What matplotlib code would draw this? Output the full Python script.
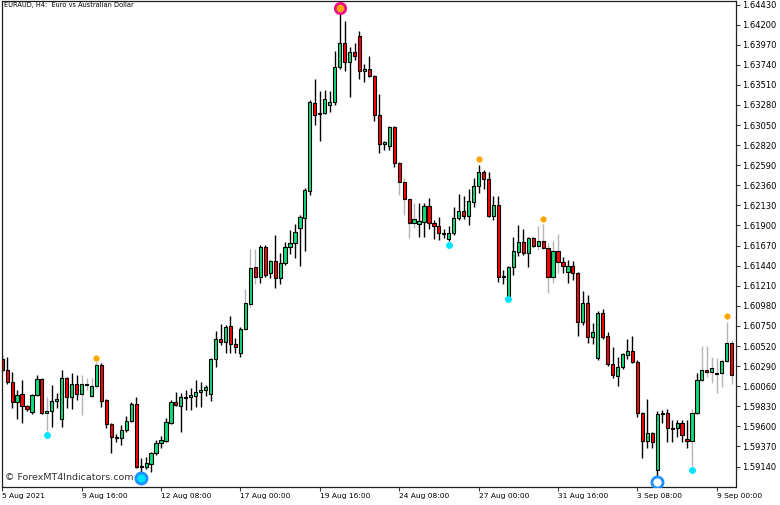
import matplotlib.pyplot as plt
import numpy as np

# EURAUD H4 candles (open, high, low, close)
opens = [1.60373, 1.60247, 1.60109, 1.59880, 1.59972, 1.59834, 1.59765, 1.59961, 1.60144, 1.59754,
         1.59777, 1.59892, 1.59685, 1.60155, 1.59938, 1.60086, 1.59972, 1.60075, 1.59949, 1.60063,
         1.60304, 1.59903, 1.59628, 1.59479, 1.59468, 1.59559, 1.59662, 1.59857, 1.59135, 1.59135,
         1.59169, 1.59296, 1.59410, 1.59433, 1.59640, 1.59880, 1.59834, 1.59926, 1.59938, 1.59949,
         1.59995, 1.60018, 1.59972, 1.60373, 1.60602, 1.60568, 1.60751, 1.60545, 1.60442, 1.60717,
         1.61003, 1.61427, 1.61313, 1.61656, 1.61358, 1.61496, 1.61301, 1.61473, 1.61656, 1.61702,
         1.61874, 1.61989, 1.62298, 1.63307, 1.63192, 1.63192, 1.63284, 1.63318, 1.63719, 1.63994,
         1.63776, 1.63891, 1.64074, 1.63673, 1.63696, 1.63616, 1.63169, 1.62837, 1.62814, 1.63032,
         1.62619, 1.62401, 1.62206, 1.61931, 1.61920, 1.61943, 1.62126, 1.61931, 1.61897, 1.61805,
         1.61748, 1.61817, 1.61989, 1.62069, 1.62012, 1.62172, 1.62356, 1.62516, 1.62436, 1.62012,
         1.62138, 1.61313, 1.61083, 1.61427, 1.61599, 1.61714, 1.61588, 1.61760, 1.61668, 1.61725,
         1.61645, 1.61313, 1.61610, 1.61484, 1.61370, 1.61438, 1.61358, 1.60797, 1.61015, 1.60625,
         1.60384, 1.60900, 1.60636, 1.60315, 1.60178, 1.60281, 1.60419, 1.60465, 1.60338, 1.59754,
         1.59433, 1.59525, 1.59101, 1.59742, 1.59754, 1.59570, 1.59582, 1.59640, 1.59456, 1.59433,
         1.59754, 1.60132, 1.60247, 1.60224, 1.60201, 1.60213, 1.60350, 1.60556]
highs = [1.60419, 1.60396, 1.60224, 1.60018, 1.60132, 1.59846, 1.59972, 1.60190, 1.60155, 1.59938,
         1.60075, 1.59984, 1.60247, 1.60167, 1.60213, 1.60190, 1.60190, 1.60155, 1.60155, 1.60338,
         1.60327, 1.59915, 1.59640, 1.59513, 1.59617, 1.59719, 1.59880, 1.59938, 1.59238, 1.59250,
         1.59307, 1.59445, 1.59490, 1.59697, 1.59903, 1.59995, 1.59984, 1.60018, 1.60040, 1.60132,
         1.60109, 1.60075, 1.60384, 1.60694, 1.60774, 1.60763, 1.60866, 1.60614, 1.60740, 1.61175,
         1.61633, 1.61633, 1.61679, 1.61679, 1.61507, 1.61794, 1.61588, 1.61714, 1.61851, 1.61920,
         1.62023, 1.62333, 1.63341, 1.63582, 1.63444, 1.63456, 1.63444, 1.63903, 1.64349, 1.64246,
         1.63948, 1.63994, 1.64132, 1.63754, 1.63845, 1.63628, 1.63410, 1.62871, 1.63043, 1.63043,
         1.62642, 1.62447, 1.62218, 1.62161, 1.62161, 1.62161, 1.62218, 1.61966, 1.62000, 1.61863,
         1.61897, 1.62115, 1.62264, 1.62241, 1.62321, 1.62447, 1.62596, 1.62539, 1.62516, 1.62241,
         1.62241, 1.61393, 1.61438, 1.61771, 1.61909, 1.61863, 1.61771, 1.61771, 1.61897, 1.61920,
         1.61702, 1.61725, 1.61805, 1.61542, 1.61507, 1.61496, 1.61370, 1.61152, 1.61106, 1.60786,
         1.60923, 1.60946, 1.60682, 1.60511, 1.60396, 1.60442, 1.60602, 1.60636, 1.60361, 1.59765,
         1.59915, 1.59536, 1.59777, 1.59788, 1.59800, 1.59674, 1.59674, 1.59674, 1.59674, 1.59800,
         1.60213, 1.60522, 1.60522, 1.60396, 1.60384, 1.60373, 1.60797, 1.60591]
lows = [1.60224, 1.60086, 1.59811, 1.59685, 1.59640, 1.59777, 1.59742, 1.59949, 1.59742, 1.59548,
        1.59594, 1.59811, 1.59594, 1.59811, 1.59800, 1.59903, 1.59731, 1.60018, 1.59926, 1.60040,
        1.59823, 1.59582, 1.59296, 1.59422, 1.59387, 1.59536, 1.59651, 1.59123, 1.59055, 1.59112,
        1.59078, 1.59273, 1.59353, 1.59422, 1.59628, 1.59834, 1.59536, 1.59788, 1.59788, 1.59823,
        1.59823, 1.59949, 1.59892, 1.60281, 1.60534, 1.60442, 1.60442, 1.60442, 1.60396, 1.60705,
        1.60969, 1.61232, 1.61244, 1.61313, 1.61301, 1.61187, 1.61232, 1.61450, 1.61576, 1.61530,
        1.61438, 1.61610, 1.62252, 1.63055, 1.62871, 1.63181, 1.63203, 1.63284, 1.63696, 1.63673,
        1.63375, 1.63799, 1.63582, 1.63547, 1.63605, 1.63100, 1.62734, 1.62768, 1.62768, 1.62573,
        1.62252, 1.62023, 1.61760, 1.61874, 1.61771, 1.61771, 1.61863, 1.61748, 1.61737, 1.61760,
        1.61725, 1.61794, 1.61966, 1.61977, 1.61909, 1.62115, 1.62275, 1.62321, 1.62000, 1.61966,
        1.61255, 1.61232, 1.61072, 1.61335, 1.61553, 1.61565, 1.61427, 1.61656, 1.61622, 1.61633,
        1.61129, 1.61244, 1.61358, 1.61358, 1.61244, 1.61278, 1.60636, 1.60763, 1.60556, 1.60545,
        1.60361, 1.60602, 1.60292, 1.60155, 1.60063, 1.60258, 1.60373, 1.60327, 1.59708, 1.59238,
        1.59353, 1.59353, 1.59009, 1.59640, 1.59422, 1.59422, 1.59479, 1.59422, 1.59353, 1.59146,
        1.59742, 1.60109, 1.60167, 1.60098, 1.59984, 1.60052, 1.60338, 1.60086]
closes = [1.60247, 1.60109, 1.59880, 1.59961, 1.59834, 1.59800, 1.59961, 1.60144, 1.59754, 1.59777,
          1.59892, 1.59915, 1.60155, 1.59938, 1.60086, 1.59972, 1.60086, 1.60086, 1.60063, 1.60304,
          1.59892, 1.59628, 1.59479, 1.59468, 1.59559, 1.59662, 1.59857, 1.59135, 1.59146, 1.59181,
          1.59296, 1.59410, 1.59445, 1.59651, 1.59880, 1.59846, 1.59938, 1.59938, 1.59961, 1.59995,
          1.60018, 1.60052, 1.60373, 1.60602, 1.60568, 1.60740, 1.60545, 1.60511, 1.60717, 1.61015,
          1.61416, 1.61313, 1.61656, 1.61335, 1.61496, 1.61301, 1.61473, 1.61656, 1.61702, 1.61828,
          1.62000, 1.62310, 1.63318, 1.63169, 1.63181, 1.63352, 1.63318, 1.63719, 1.63994, 1.63776,
          1.63891, 1.63845, 1.63673, 1.63696, 1.63616, 1.63169, 1.62837, 1.62860, 1.63032, 1.62619,
          1.62401, 1.62206, 1.61931, 1.61977, 1.61954, 1.62126, 1.61931, 1.61897, 1.61817, 1.61817,
          1.61817, 1.61989, 1.62069, 1.62012, 1.62184, 1.62356, 1.62516, 1.62436, 1.62012, 1.62138,
          1.61313, 1.61324, 1.61427, 1.61610, 1.61714, 1.61588, 1.61760, 1.61668, 1.61725, 1.61645,
          1.61313, 1.61610, 1.61484, 1.61438, 1.61438, 1.61358, 1.60797, 1.61015, 1.60625, 1.60682,
          1.60900, 1.60625, 1.60315, 1.60190, 1.60281, 1.60430, 1.60465, 1.60338, 1.59754, 1.59433,
          1.59525, 1.59422, 1.59742, 1.59754, 1.59582, 1.59582, 1.59640, 1.59502, 1.59433, 1.59754,
          1.60132, 1.60247, 1.60224, 1.60270, 1.60213, 1.60350, 1.60556, 1.60190]

# fractal markers (bar index, price)
up_fractal_bars = [19, 96, 109, 146]
up_fractal_prices = [1.60384, 1.62665, 1.61977, 1.60866]
down_fractal_bars = [9, 90, 102, 139]
down_fractal_prices = [1.59502, 1.61679, 1.61060, 1.59101]
top_ring_bar = 68
top_ring_price = 1.64395
bottom_ring_bars = [28, 132]
bottom_ring_prices = [1.59009, 1.58964]

price_ticks = [1.64430, 1.64200, 1.63970, 1.63740, 1.63510, 1.63280, 1.63050, 1.62820,
               1.62590, 1.62360, 1.62130, 1.61900, 1.61670, 1.61440, 1.61210, 1.60980,
               1.60750, 1.60520, 1.60290, 1.60060, 1.59830, 1.59600, 1.59370, 1.59140]
date_bars = [0, 16, 32, 48, 64, 80, 96, 112, 128, 144]
date_labels = ['5 Aug 2021', '9 Aug 16:00', '12 Aug 08:00', '17 Aug 00:00', '19 Aug 16:00',
               '24 Aug 08:00', '27 Aug 00:00', '31 Aug 16:00', '3 Sep 08:00', '9 Sep 00:00']

# bars whose wick is drawn light grey on the original
grey_wick_bars = [9, 16, 17, 18, 19, 49, 50, 51, 80, 81, 82, 83, 108, 109, 110, 111, 112,
                  139, 141, 142, 143, 144, 145, 146, 147]

GREEN = '#12dc78'
RED = '#ff0000'

W, H = 780, 505
fig = plt.figure(figsize=(W / 100, H / 100), dpi=100)
ax = fig.add_axes([1.5 / W, 18 / H, 734.5 / W, 486.5 / H])

o = np.array(opens)
c = np.array(closes)
hi = np.array(highs)
lo = np.array(lows)
idx = np.arange(len(o))
up = c >= o

wick_col = ['#b4b4b4' if i in grey_wick_bars else 'black' for i in idx]
ax.vlines(idx, lo, hi, colors=wick_col, linewidth=1.0, zorder=1)
ax.bar(idx, np.abs(c - o), bottom=np.minimum(o, c), width=0.64,
       color=np.where(up, GREEN, RED), edgecolor='black', linewidth=0.8, zorder=2)

ax.plot(up_fractal_bars, up_fractal_prices, 'o', color='#ffa500', markersize=4.5,
        markeredgewidth=0, zorder=4)
ax.plot(down_fractal_bars, down_fractal_prices, 'o', color='#00e5ff', markersize=5,
        markeredgewidth=0, zorder=4)
ax.plot([top_ring_bar], [top_ring_price], 'o', markerfacecolor='#ffa500',
        markeredgecolor='#ee1289', markersize=7.5, markeredgewidth=2.0, zorder=5)
ax.plot(bottom_ring_bars[:1], bottom_ring_prices[:1], 'o', markerfacecolor='#00e5ff',
        markeredgecolor='#1e90ff', markersize=8, markeredgewidth=2.0, zorder=5)
ax.plot(bottom_ring_bars[1:], bottom_ring_prices[1:], 'o', markerfacecolor='white',
        markeredgecolor='#1e90ff', markersize=8, markeredgewidth=2.0, zorder=5)

ax.set_xlim(-0.14, 147.87)
ax.set_ylim(1.58906, 1.64476)

ax.yaxis.tick_right()
ax.set_yticks(price_ticks)
ax.set_yticklabels(['%.5f' % p for p in price_ticks])
ax.set_xticks(date_bars)
ax.set_xticklabels(date_labels, ha='left')
ax.tick_params(axis='both', length=3, width=0.8, color='#404040')
ax.tick_params(axis='y', labelsize=6, pad=1.5)
ax.tick_params(axis='x', labelsize=5.4, pad=1)
for s in ax.spines.values():
    s.set_linewidth(0.9)
    s.set_color('#202020')

fig.text(4 / W, 1 - 2 / H, 'EURAUD, H4:  Euro vs Australian Dollar', fontsize=4.8,
         va='top', ha='left')
fig.text(5 / W, 1 - 478 / H, '\u00a9 ForexMT4Indicators.com', fontsize=6.8,
         va='center', ha='left', color='#303030')

fig.savefig('out.png', dpi=100)
